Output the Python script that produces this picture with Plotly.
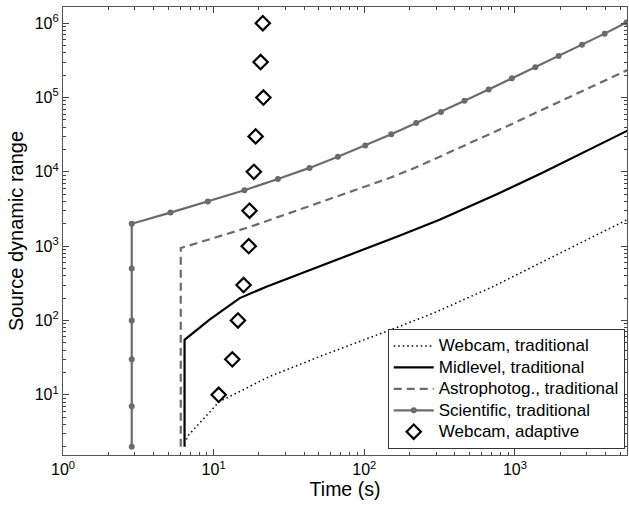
import plotly.graph_objects as go

# ---- data ----
webcam_trad_t = [6.6, 6.74, 10.9, 23.5, 37.2, 50.5, 171, 286, 700, 1459, 2193, 5545]
webcam_trad_dr = [2.5, 2.8, 8.1, 17.6, 25.5, 32.7, 83, 125, 280, 593, 895, 2265]

mid_trad_t = [6.41, 6.41, 9.4, 14.9, 22.4, 30.4, 50.5, 171, 316, 791, 1500, 5625]
mid_trad_dr = [2, 55, 103, 200, 285, 360, 533, 1380, 2265, 5200, 9600, 36100]

astro_trad_t = [6.05, 6.05, 17.3, 56, 101.6, 147, 221, 323, 463, 669, 955,
                1366, 1951, 2786, 3943, 5625]
astro_trad_dr = [2, 943, 1807, 4215, 6350, 8260, 11500, 16200, 22600, 31500,
                 44000, 62000, 87000, 123000, 172000, 236000]

sci_trad_t = [2.86, 2.86, 2.86, 2.86, 2.86, 2.86, 5.17, 9.15, 16.0, 26.7, 43.3,
              66.8, 101.6, 151, 221, 323, 463, 669, 955, 1366, 1951, 2786,
              3943, 5495]
sci_trad_dr = [2, 7, 30, 100, 500, 2000, 2830, 4000, 5660, 8000, 11300,
               16000, 22600, 32000, 45300, 64000, 90500, 128000, 181000,
               256000, 362000, 512000, 724000, 1024000]

webcam_adapt_t = [10.8, 13.3, 14.5, 15.8, 17.1, 17.3, 18.5, 19.0, 21.4, 20.5, 21.2]
webcam_adapt_dr = [10, 30, 100, 300, 1000, 3000, 10000, 30000, 100000, 300000, 1000000]

series_names = ["Webcam, traditional", "Midlevel, traditional",
                "Astrophotog., traditional", "Scientific, traditional",
                "Webcam, adaptive"]

x_tick_vals = [1, 10, 100, 1000]
x_tick_text = ["10<sup>0</sup>", "10<sup>1</sup>", "10<sup>2</sup>", "10<sup>3</sup>"]
y_tick_vals = [10, 100, 1000, 10000, 100000, 1000000]
y_tick_text = ["10<sup>1</sup>", "10<sup>2</sup>", "10<sup>3</sup>",
               "10<sup>4</sup>", "10<sup>5</sup>", "10<sup>6</sup>"]

GRAY = "#6b6b6b"
FONT = "Liberation Sans, Arial, Helvetica, sans-serif"


def leg(name):
    return '<span style="font-size:17px">' + name + '</span>'


fig = go.Figure()
fig.add_trace(go.Scatter(x=webcam_trad_t, y=webcam_trad_dr, mode="lines",
                         name=leg(series_names[0]),
                         line=dict(color="black", width=1.5, dash="1.5px,3px")))
fig.add_trace(go.Scatter(x=mid_trad_t, y=mid_trad_dr, mode="lines",
                         name=leg(series_names[1]),
                         line=dict(color="black", width=2.2)))
fig.add_trace(go.Scatter(x=astro_trad_t, y=astro_trad_dr, mode="lines",
                         name=leg(series_names[2]),
                         line=dict(color=GRAY, width=2.2, dash="8px,5px")))
fig.add_trace(go.Scatter(x=sci_trad_t, y=sci_trad_dr, mode="lines+markers",
                         name=leg(series_names[3]),
                         line=dict(color=GRAY, width=2.2),
                         marker=dict(color=GRAY, size=6)))
fig.add_trace(go.Scatter(x=webcam_adapt_t, y=webcam_adapt_dr, mode="markers",
                         name=leg(series_names[4]),
                         marker=dict(symbol="diamond-open", size=11, color="black",
                                     line=dict(width=2.2, color="black"))))

minor_vals = []
for d in [1, 10, 100, 1000]:
    for m in range(2, 10):
        minor_vals.append(d * m)
minor_y = []
for d in [1, 10, 100, 1000, 10000, 100000, 1000000]:
    for m in range(2, 10):
        minor_y.append(d * m)

axis_common = dict(
    type="log", showgrid=False, zeroline=False, showline=True,
    linecolor="#555555", linewidth=1.2, mirror="allticks", automargin=False,
    ticks="inside", ticklen=6, tickwidth=1, tickcolor="#444444",
    tickfont=dict(family=FONT, size=16, color="black"),
)

fig.update_xaxes(
    **axis_common,
    range=[0, 3.744],
    tickmode="array", tickvals=x_tick_vals, ticktext=x_tick_text,
    minor=dict(tickmode="array", tickvals=minor_vals, ticks="inside",
               ticklen=3, tickcolor="#444444", showgrid=False),
    title=dict(text="Time (s)", font=dict(family=FONT, size=19.5, color="black"),
               standoff=4),
)
fig.update_yaxes(
    **axis_common,
    range=[0.19, 6.218],
    tickmode="array", tickvals=y_tick_vals, ticktext=y_tick_text,
    minor=dict(tickmode="array", tickvals=minor_y, ticks="inside",
               ticklen=3, tickcolor="#444444", showgrid=False),
    title=dict(text="Source dynamic range", font=dict(family=FONT, size=20, color="black"),
               standoff=5),
)

fig.update_layout(
    width=629, height=506,
    margin=dict(l=63, r=2, t=7, b=51, autoexpand=False),
    paper_bgcolor="white", plot_bgcolor="white",
    font=dict(family=FONT, color="black"),
    showlegend=True,
    legend=dict(x=0.996, y=0.013, xanchor="right", yanchor="bottom",
                bgcolor="white", bordercolor="#333333", borderwidth=1,
                font=dict(family=FONT, size=14.2, color="black"),
                tracegroupgap=0, itemwidth=40),
)

fig.write_html(
    "out.html",
    config={"displayModeBar": False},
    post_script="document.body.style.margin='0';document.body.style.overflow='hidden';",
)
